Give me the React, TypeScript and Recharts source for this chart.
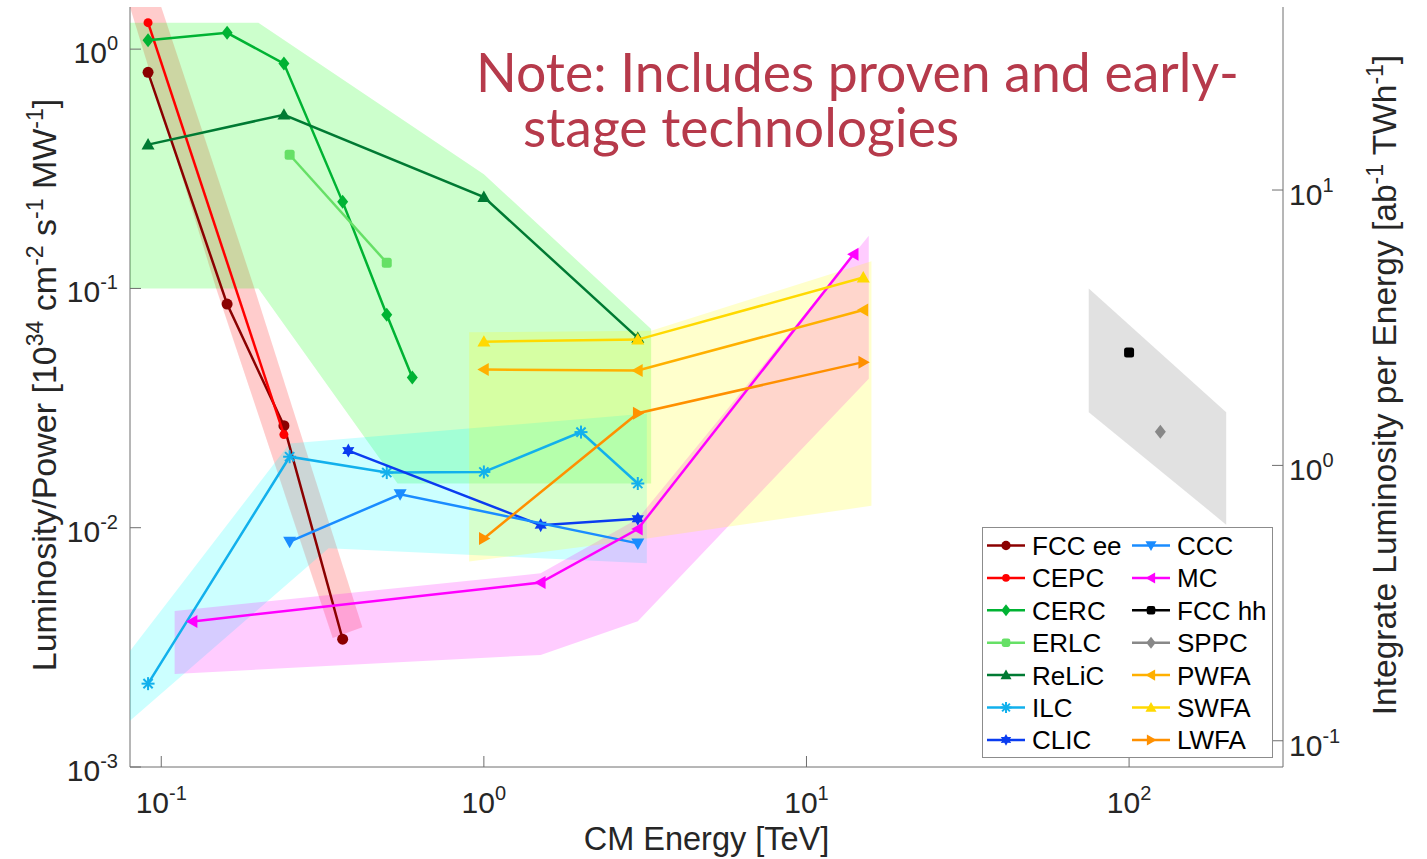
import React from 'react';
import { ComposedChart, Scatter, XAxis, YAxis, Legend, Customized } from 'recharts';

const FONT = '"Liberation Sans", Arial, Helvetica, sans-serif';
const FRAME = '#6e6e6e';
const INK = '#262626';

// Achsen (log-log), links Luminosity/Power, rechts integrierte Luminosität
const X_DOMAIN = [0.08, 300];
const Y_DOMAIN = [0.001, 1.5];
const Y2_DOMAIN = [0.0803, 46.2];
const X_TICKS = [0.1, 1, 10, 100];
const Y_TICKS = [0.001, 0.01, 0.1, 1];
const Y2_TICKS = [0.1, 1, 10];

// Messpunkte: Schwerpunktsenergie [TeV] / Luminosity pro Leistung
const FCCEE_E = [0.091, 0.16, 0.24, 0.365];
const FCCEE_L = [0.8, 0.086, 0.0267, 0.00342];
const CEPC_E = [0.091, 0.24];
const CEPC_L = [1.29, 0.0245];
const CERC_E = [0.091, 0.16, 0.24, 0.365, 0.5, 0.6];
const CERC_L = [1.09, 1.17, 0.87, 0.23, 0.0776, 0.0424];
const ERLC_E = [0.25, 0.5];
const ERLC_L = [0.362, 0.128];
const RELIC_E = [0.091, 0.24, 1, 3];
const RELIC_L = [0.399, 0.532, 0.241, 0.0621];
const ILC_E = [0.091, 0.25, 0.5, 1, 2, 3];
const ILC_L = [0.00223, 0.0198, 0.017, 0.0171, 0.0251, 0.0153];
const CLIC_E = [0.38, 1.5, 3];
const CLIC_L = [0.021, 0.01025, 0.0109];
const CCC_E = [0.25, 0.55, 3];
const CCC_L = [0.00874, 0.0138, 0.0086];
const MC_E = [0.125, 1.5, 3, 14];
const MC_L = [0.00406, 0.0059, 0.00987, 0.139];
const FCCHH_E = [100];
const FCCHH_L = [0.054];
const SPPC_E = [125];
const SPPC_L = [0.0252];
const PWFA_E = [1, 3, 15];
const PWFA_L = [0.0458, 0.0454, 0.0812];
const SWFA_E = [1, 3, 15];
const SWFA_L = [0.0599, 0.0611, 0.111];
const LWFA_E = [1, 3, 15];
const LWFA_L = [0.00902, 0.0301, 0.0492];

// schattierte Bereiche (Eckpunkte)
const RED_ZONE_E = [0.08, 0.1, 0.1945, 0.42, 0.34, 0.148];
const RED_ZONE_L = [1.5, 1.5, 0.1, 0.00384, 0.00346, 0.1];
const GREEN_ZONE_E = [0.08, 0.2, 1.0, 3.3, 3.3, 0.54, 0.2, 0.08];
const GREEN_ZONE_L = [1.29, 1.29, 0.3, 0.0677, 0.0153, 0.0153, 0.1, 0.1];
const CYAN_ZONE_E = [0.08, 0.25, 3.2, 3.2, 0.33, 0.08];
const CYAN_ZONE_L = [0.00305, 0.0225, 0.03, 0.0071, 0.0082, 0.00156];
const MAGENTA_ZONE_E = [0.11, 1.5, 3.0, 15.6, 15.6, 3.0, 1.5, 0.11];
const MAGENTA_ZONE_L = [0.00449, 0.00645, 0.0109, 0.166, 0.0419, 0.00407, 0.00294, 0.00245];
const YELLOW_ZONE_E = [0.9, 3.3, 15.9, 15.9, 3.2, 0.9];
const YELLOW_ZONE_L = [0.0656, 0.0666, 0.13, 0.01235, 0.00902, 0.00722];
const GRAY_ZONE_E = [75, 200, 200, 75];
const GRAY_ZONE_L = [0.1, 0.0304, 0.0103, 0.0304];

const pts = (e: number[], l: number[]) => e.map((x, i) => ({ x, y: l[i] }));

const SERIES = [
  { name: 'FCC ee', color: '#8b0000', kind: 'circle', e: FCCEE_E, l: FCCEE_L },
  { name: 'CEPC', color: '#ff0000', kind: 'dot', e: CEPC_E, l: CEPC_L },
  { name: 'CERC', color: '#00b333', kind: 'diamond', e: CERC_E, l: CERC_L },
  { name: 'ERLC', color: '#66e066', kind: 'square', e: ERLC_E, l: ERLC_L },
  { name: 'ReLiC', color: '#007a33', kind: 'up', e: RELIC_E, l: RELIC_L },
  { name: 'ILC', color: '#12b0ec', kind: 'asterisk', e: ILC_E, l: ILC_L },
  { name: 'CLIC', color: '#0a3cf0', kind: 'star', e: CLIC_E, l: CLIC_L },
  { name: 'CCC', color: '#1a8cff', kind: 'down', e: CCC_E, l: CCC_L },
  { name: 'MC', color: '#ff00ff', kind: 'left', e: MC_E, l: MC_L },
  { name: 'FCC hh', color: '#000000', kind: 'square', e: FCCHH_E, l: FCCHH_L },
  { name: 'SPPC', color: '#888888', kind: 'diamond', e: SPPC_E, l: SPPC_L },
  { name: 'PWFA', color: '#ffb000', kind: 'left', e: PWFA_E, l: PWFA_L },
  { name: 'SWFA', color: '#ffd900', kind: 'up', e: SWFA_E, l: SWFA_L },
  { name: 'LWFA', color: '#ff9000', kind: 'right', e: LWFA_E, l: LWFA_L },
];

// Reihenfolge = Zeichenreihenfolge (halbtransparent übereinander)
const ZONES = [
  { color: '#ff0000', opacity: 0.2, e: RED_ZONE_E, l: RED_ZONE_L },
  { color: '#00ff00', opacity: 0.2, e: GREEN_ZONE_E, l: GREEN_ZONE_L },
  { color: '#00ffff', opacity: 0.2, e: CYAN_ZONE_E, l: CYAN_ZONE_L },
  { color: '#ff00ff', opacity: 0.2, e: MAGENTA_ZONE_E, l: MAGENTA_ZONE_L },
  { color: '#ffff00', opacity: 0.2, e: YELLOW_ZONE_E, l: YELLOW_ZONE_L },
  { color: '#808080', opacity: 0.24, e: GRAY_ZONE_E, l: GRAY_ZONE_L },
];

function marker(kind: string, cx: number, cy: number, color: string, k = 1) {
  const s = 6.5 * k;
  switch (kind) {
    case 'circle':
      return <circle cx={cx} cy={cy} r={5.5 * k} fill={color} />;
    case 'dot':
      return <circle cx={cx} cy={cy} r={4.5 * k} fill={color} />;
    case 'square':
      return <rect x={cx - 5 * k} y={cy - 5 * k} width={10 * k} height={10 * k} rx={2.5 * k} fill={color} />;
    case 'diamond':
      return <polygon points={`${cx},${cy - 7 * k} ${cx + 5.5 * k},${cy} ${cx},${cy + 7 * k} ${cx - 5.5 * k},${cy}`} fill={color} />;
    case 'up':
      return <polygon points={`${cx},${cy - s} ${cx + s},${cy + s * 0.75} ${cx - s},${cy + s * 0.75}`} fill={color} />;
    case 'down':
      return <polygon points={`${cx},${cy + s} ${cx + s},${cy - s * 0.75} ${cx - s},${cy - s * 0.75}`} fill={color} />;
    case 'left':
      return <polygon points={`${cx - s},${cy} ${cx + s * 0.75},${cy - s} ${cx + s * 0.75},${cy + s}`} fill={color} />;
    case 'right':
      return <polygon points={`${cx + s},${cy} ${cx - s * 0.75},${cy - s} ${cx - s * 0.75},${cy + s}`} fill={color} />;
    case 'asterisk': {
      const r = 6.5 * k;
      const d = r * 0.707;
      return (
        <g stroke={color} strokeWidth={2}>
          <line x1={cx - r} x2={cx + r} y1={cy} y2={cy} />
          <line x1={cx} x2={cx} y1={cy - r} y2={cy + r} />
          <line x1={cx - d} x2={cx + d} y1={cy - d} y2={cy + d} />
          <line x1={cx - d} x2={cx + d} y1={cy + d} y2={cy - d} />
        </g>
      );
    }
    case 'star': {
      const p: string[] = [];
      for (let i = 0; i < 12; i++) {
        const r = (i % 2 === 0 ? 7 : 4) * k;
        const a = (Math.PI / 6) * i - Math.PI / 2;
        p.push(`${cx + r * Math.cos(a)},${cy + r * Math.sin(a)}`);
      }
      return <polygon points={p.join(' ')} fill={color} />;
    }
    default:
      return <circle cx={cx} cy={cy} r={4} fill={color} />;
  }
}

const sup = (v: number) => String(Math.round(Math.log10(v)));

const BottomTick = (p: any) => (
  <g>
    <line x1={p.x} x2={p.x} y1={p.y} y2={p.y - 11} stroke={FRAME} />
    <text x={p.x} y={p.y + 46} textAnchor="middle" fontSize={30} fill={INK} fontFamily={FONT}>
      10<tspan dy={-13} fontSize={20}>{sup(p.payload.value)}</tspan>
    </text>
  </g>
);

const TopTick = (p: any) => <line x1={p.x} x2={p.x} y1={p.y} y2={p.y + 11} stroke={FRAME} />;

const LeftTick = (p: any) => (
  <g>
    <line x1={p.x} x2={p.x + 11} y1={p.y} y2={p.y} stroke={FRAME} />
    <text x={p.x - 12} y={p.y + 14} textAnchor="end" fontSize={30} fill={INK} fontFamily={FONT}>
      10<tspan dy={-13} fontSize={20}>{sup(p.payload.value)}</tspan>
    </text>
  </g>
);

const RightTick = (p: any) => (
  <g>
    <line x1={p.x - 11} x2={p.x} y1={p.y} y2={p.y} stroke={FRAME} />
    <text x={p.x + 6} y={p.y + 15} textAnchor="start" fontSize={30} fill={INK} fontFamily={FONT}>
      10<tspan dy={-13} fontSize={20}>{sup(p.payload.value)}</tspan>
    </text>
  </g>
);

const XLabel = (p: any) => {
  const vb = p.viewBox || { x: 130, y: 767, width: 1153, height: 82 };
  return (
    <text x={vb.x + vb.width / 2} y={vb.y + 83} textAnchor="middle" fontSize={32.5} fill={INK} fontFamily={FONT}>
      CM Energy [TeV]
    </text>
  );
};

const YLabel = (p: any) => {
  const vb = p.viewBox || { x: 10, y: 7, width: 120, height: 760 };
  const x = vb.x + 46;
  const y = vb.y + vb.height / 2 - 2;
  return (
    <text x={x} y={y} transform={`rotate(-90 ${x} ${y})`} textAnchor="middle" fontSize={34} fill={INK} fontFamily={FONT}>
      Luminosity/Power [10<tspan dy={-13} fontSize={23}>34</tspan>
      <tspan dy={13}> cm</tspan><tspan dy={-13} fontSize={23}>-2</tspan>
      <tspan dy={13}> s</tspan><tspan dy={-13} fontSize={23}>-1</tspan>
      <tspan dy={13}> MW</tspan><tspan dy={-13} fontSize={23}>-1</tspan>
      <tspan dy={13}>]</tspan>
    </text>
  );
};

const Y2Label = (p: any) => {
  const vb = p.viewBox || { x: 1283, y: 7, width: 134, height: 760 };
  const x = vb.x + 113;
  const y = vb.y + vb.height / 2 - 2;
  return (
    <text x={x} y={y} transform={`rotate(-90 ${x} ${y})`} textAnchor="middle" fontSize={33.5} fill={INK} fontFamily={FONT}>
      Integrate Luminosity per Energy [ab<tspan dy={-13} fontSize={23}>-1</tspan>
      <tspan dy={13}> TWh</tspan><tspan dy={-13} fontSize={23}>-1</tspan>
      <tspan dy={13}>]</tspan>
    </text>
  );
};

const LegendBox = () => (
  <svg width={291} height={231} style={{ display: 'block' }}>
    <rect x={0.5} y={0.5} width={290} height={230} fill="#fff" stroke="#8c8c8c" />
    {SERIES.map((s, i) => {
      const x0 = i < 7 ? 5 : 150;
      const y = 18.5 + (i % 7) * 32.4;
      return (
        <g key={s.name}>
          <line x1={x0} x2={x0 + 38} y1={y} y2={y} stroke={s.color} strokeWidth={2.5} />
          {marker(s.kind, x0 + 19, y, s.color, 0.85)}
          <text x={x0 + 45} y={y + 9.5} fontSize={26} fill="#000" fontFamily={FONT}>
            {s.name}
          </text>
        </g>
      );
    })}
  </svg>
);

const Note = () => (
  <g fontFamily="Lato, 'Open Sans', sans-serif" fill="#b63a4b" fontSize={53.5}>
    <text x={476} y={92}>Note: Includes proven and early-</text>
    <text x={523} y={147}>stage technologies</text>
  </g>
);

const zonePath = (color: string, opacity: number) => (lp: any) => {
  const p = lp.points || [];
  if (!p.length) return <g />;
  const d = 'M' + p.map((q: any) => `${q.x},${q.y}`).join('L') + 'Z';
  return <path d={d} fill={color} fillOpacity={opacity} stroke="none" />;
};

export default function App() {
  return (
    <div style={{ position: 'absolute', left: 0, top: 0, background: '#fff' }}>
      <ComposedChart width={1427} height={859} margin={{ top: 7, right: 10, bottom: 10, left: 10 }}>
        {ZONES.map((z, i) => (
          <Scatter
            key={'zone' + i}
            data={pts(z.e, z.l)}
            fill={z.color}
            shape={() => <g />}
            line={zonePath(z.color, z.opacity)}
            lineType="joint"
            legendType="none"
            isAnimationActive={false}
          />
        ))}
        {SERIES.map((s) => (
          <Scatter
            key={s.name}
            name={s.name}
            data={pts(s.e, s.l)}
            fill={s.color}
            line={{ stroke: s.color, strokeWidth: 2.5 }}
            lineType="joint"
            lineJointType="linear"
            shape={(p: any) => marker(s.kind, p.cx, p.cy, s.color)}
            isAnimationActive={false}
          />
        ))}
        <XAxis
          dataKey="x"
          type="number"
          scale="log"
          domain={X_DOMAIN}
          allowDataOverflow
          ticks={X_TICKS}
          interval={0}
          height={82}
          tickSize={0}
          tickMargin={0}
          tickLine={false}
          axisLine={{ stroke: FRAME }}
          tick={BottomTick}
          label={XLabel}
        />
        <XAxis
          xAxisId="top"
          orientation="top"
          type="number"
          scale="log"
          domain={X_DOMAIN}
          allowDataOverflow
          ticks={X_TICKS}
          interval={0}
          height={0}
          tickSize={0}
          tickMargin={0}
          tickLine={false}
          axisLine={{ stroke: FRAME }}
          tick={TopTick}
        />
        <YAxis
          dataKey="y"
          type="number"
          scale="log"
          domain={Y_DOMAIN}
          allowDataOverflow
          ticks={Y_TICKS}
          interval={0}
          width={120}
          tickSize={0}
          tickMargin={0}
          tickLine={false}
          axisLine={{ stroke: FRAME }}
          tick={LeftTick}
          label={YLabel}
        />
        <YAxis
          yAxisId="right"
          orientation="right"
          type="number"
          scale="log"
          domain={Y2_DOMAIN}
          allowDataOverflow
          ticks={Y2_TICKS}
          interval={0}
          width={134}
          tickSize={0}
          tickMargin={0}
          tickLine={false}
          axisLine={{ stroke: FRAME }}
          tick={RightTick}
          label={Y2Label}
        />
        <Legend
          layout="horizontal"
          verticalAlign="middle"
          align="center"
          content={LegendBox}
          wrapperStyle={{ position: 'absolute', left: 982, top: 527, width: 291, height: 231 }}
        />
        <Customized component={Note} />
      </ComposedChart>
    </div>
  );
}
